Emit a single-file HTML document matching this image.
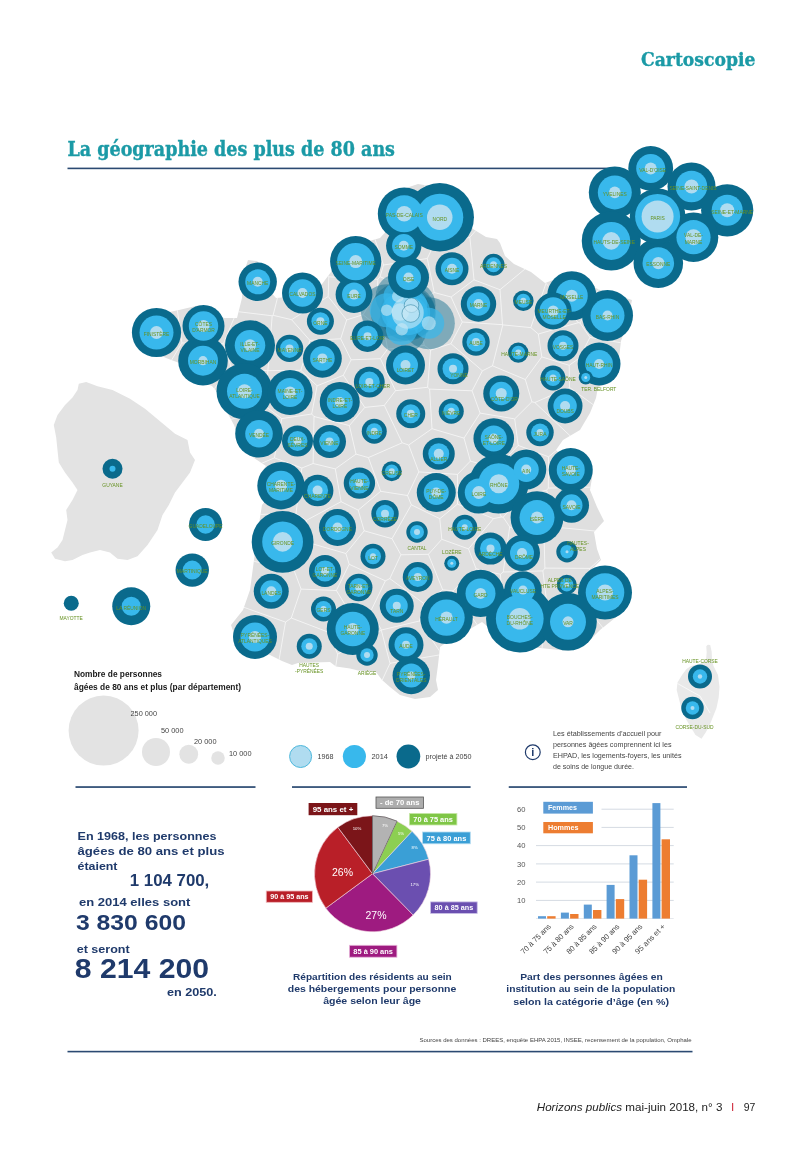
<!DOCTYPE html>
<html lang="fr"><head><meta charset="utf-8"><title>La géographie des plus de 80 ans</title>
<style>html,body{margin:0;padding:0;background:#fff}svg{display:block}text{font-family:"Liberation Sans",sans-serif}.lb{font-size:6px;fill:#669222;text-anchor:middle}.slab{font-family:"DejaVu Serif","Liberation Serif",serif;font-weight:bold}.cg{font-family:"Liberation Sans",sans-serif;font-weight:bold;fill:#1f3a6b}</style></head><body>
<svg width="800" height="1156" viewBox="0 0 800 1156">
<rect width="800" height="1156" fill="#fff"/>
<text class="slab" x="641" y="65.5" font-size="18" fill="#1b9aa6" stroke="#1b9aa6" stroke-width="0.35" textLength="114.5" lengthAdjust="spacingAndGlyphs">Cartoscopie</text>
<text class="slab" x="67.5" y="156" font-size="20.5" fill="#1b9aa6" stroke="#1b9aa6" stroke-width="0.4" textLength="327.5" lengthAdjust="spacingAndGlyphs">La géographie des plus de 80 ans</text>
<rect x="67.5" y="167.6" width="545" height="1.6" fill="#2b4a72"/>
<defs><clipPath id="fr"><path d="M418.0,184.0 L430.0,186.0 L455.0,200.0 L473.0,229.0 L486.0,237.0 L497.0,239.0 L500.0,243.0 L505.0,256.0 L514.0,264.0 L531.0,272.0 L545.0,283.0 L556.0,279.0 L575.0,278.0 L600.0,290.0 L632.0,300.0 L628.0,320.0 L621.0,341.0 L619.0,358.0 L616.0,374.0 L610.0,383.0 L598.0,387.0 L596.0,398.0 L590.0,413.0 L580.0,430.0 L563.0,440.0 L556.0,450.0 L562.0,456.0 L580.0,455.0 L593.0,472.0 L590.0,490.0 L597.0,507.0 L604.0,521.0 L594.0,532.0 L597.0,549.0 L601.0,560.0 L593.0,568.0 L610.0,575.0 L632.0,590.0 L625.0,610.0 L600.0,630.0 L585.0,645.0 L569.0,651.0 L540.0,648.0 L510.0,645.0 L482.0,622.0 L465.0,632.0 L450.0,640.0 L440.0,647.0 L438.0,665.0 L436.0,680.0 L438.0,690.0 L430.0,697.0 L415.0,699.0 L400.0,695.0 L390.0,687.0 L382.0,680.0 L376.0,672.0 L358.0,670.5 L350.0,668.5 L336.0,666.5 L330.0,662.0 L298.0,663.0 L292.0,665.0 L282.0,661.0 L270.0,655.0 L262.0,652.0 L245.0,645.0 L234.0,634.0 L231.0,625.0 L243.0,610.0 L250.0,590.0 L254.0,560.0 L258.0,530.0 L262.0,505.0 L266.0,500.0 L258.0,487.0 L260.0,474.0 L266.0,466.0 L254.0,458.0 L242.0,447.0 L234.0,425.0 L226.0,410.0 L222.0,398.0 L212.0,386.0 L196.0,380.0 L182.0,364.0 L166.0,358.0 L156.0,353.0 L138.0,345.0 L134.0,335.0 L140.0,322.0 L160.0,314.0 L179.0,310.0 L200.0,305.0 L224.0,318.0 L237.0,318.0 L242.0,298.0 L243.0,275.0 L248.0,260.0 L257.0,261.0 L266.0,270.0 L269.0,290.0 L276.0,298.0 L300.0,296.0 L322.0,284.0 L331.0,272.0 L335.0,258.0 L355.0,245.0 L380.0,238.0 L392.0,225.0 L394.0,205.0 L400.0,190.0Z"/></clipPath></defs>
<path d="M418.0,184.0 L430.0,186.0 L455.0,200.0 L473.0,229.0 L486.0,237.0 L497.0,239.0 L500.0,243.0 L505.0,256.0 L514.0,264.0 L531.0,272.0 L545.0,283.0 L556.0,279.0 L575.0,278.0 L600.0,290.0 L632.0,300.0 L628.0,320.0 L621.0,341.0 L619.0,358.0 L616.0,374.0 L610.0,383.0 L598.0,387.0 L596.0,398.0 L590.0,413.0 L580.0,430.0 L563.0,440.0 L556.0,450.0 L562.0,456.0 L580.0,455.0 L593.0,472.0 L590.0,490.0 L597.0,507.0 L604.0,521.0 L594.0,532.0 L597.0,549.0 L601.0,560.0 L593.0,568.0 L610.0,575.0 L632.0,590.0 L625.0,610.0 L600.0,630.0 L585.0,645.0 L569.0,651.0 L540.0,648.0 L510.0,645.0 L482.0,622.0 L465.0,632.0 L450.0,640.0 L440.0,647.0 L438.0,665.0 L436.0,680.0 L438.0,690.0 L430.0,697.0 L415.0,699.0 L400.0,695.0 L390.0,687.0 L382.0,680.0 L376.0,672.0 L358.0,670.5 L350.0,668.5 L336.0,666.5 L330.0,662.0 L298.0,663.0 L292.0,665.0 L282.0,661.0 L270.0,655.0 L262.0,652.0 L245.0,645.0 L234.0,634.0 L231.0,625.0 L243.0,610.0 L250.0,590.0 L254.0,560.0 L258.0,530.0 L262.0,505.0 L266.0,500.0 L258.0,487.0 L260.0,474.0 L266.0,466.0 L254.0,458.0 L242.0,447.0 L234.0,425.0 L226.0,410.0 L222.0,398.0 L212.0,386.0 L196.0,380.0 L182.0,364.0 L166.0,358.0 L156.0,353.0 L138.0,345.0 L134.0,335.0 L140.0,322.0 L160.0,314.0 L179.0,310.0 L200.0,305.0 L224.0,318.0 L237.0,318.0 L242.0,298.0 L243.0,275.0 L248.0,260.0 L257.0,261.0 L266.0,270.0 L269.0,290.0 L276.0,298.0 L300.0,296.0 L322.0,284.0 L331.0,272.0 L335.0,258.0 L355.0,245.0 L380.0,238.0 L392.0,225.0 L394.0,205.0 L400.0,190.0Z" fill="#dfdfdf"/>
<path d="M78.8,383.8 L86.2,382.0 L97.5,386.2 L112.5,390.0 L130.0,398.8 L145.0,408.8 L160.0,421.2 L175.0,433.8 L187.5,440.0 L190.0,452.5 L195.0,460.0 L190.0,472.5 L182.5,482.5 L175.0,492.5 L168.8,505.0 L162.5,515.0 L157.5,530.0 L147.5,545.0 L137.5,556.2 L127.5,560.0 L117.5,558.8 L110.0,552.5 L100.0,550.0 L90.0,552.5 L82.5,555.0 L72.5,560.0 L65.0,561.2 L55.0,558.8 L51.2,552.5 L57.5,547.5 L62.5,540.0 L65.0,530.0 L67.5,520.0 L66.2,510.0 L72.5,500.0 L77.5,490.0 L72.5,482.5 L65.0,472.5 L58.8,462.5 L57.5,450.0 L56.2,437.5 L53.8,425.0 L57.5,415.0 L65.0,405.0 L72.5,397.5 L77.5,390.0Z" fill="#e3e3e3"/>
<path d="M706.3,646.2 L707.8,644.7 L710.2,645.0 L711.7,651.7 L712.0,660.0 L713.5,666.0 L718.0,675.0 L719.5,687.0 L718.7,697.5 L716.5,708.0 L713.5,715.5 L710.5,723.0 L706.0,732.0 L701.5,738.7 L695.5,735.0 L691.0,727.5 L686.5,720.0 L683.5,714.0 L680.5,705.0 L678.2,696.0 L676.7,690.0 L677.5,682.5 L682.0,675.0 L686.5,669.0 L691.0,666.0 L700.0,663.7 L706.0,660.0 L706.7,652.5Z" fill="#e9e9e9"/>
<path d="M677.5,683.5 L689,690 L700,696 L710,713" stroke="#fff" stroke-width="0.7" fill="none"/>
<path d="M157.8,1367.6L-681.2,771.7M-1038.8,600.0L-681.2,771.7M500.0,-837.1L521.0,-804.9M521.0,-804.9L848.8,-320.3M848.8,-320.3L901.5,-258.9M500.0,-837.1L76.4,-300.6M-1038.8,600.0L-40.6,-187.2M76.4,-300.6L-40.6,-187.2M310.0,835.9L337.6,654.2M310.0,835.9L390.0,663.3M337.6,654.2L381.3,630.2M390.0,663.3L381.3,630.2M157.8,1367.6L159.4,1361.1M441.9,654.5L390.0,663.3M441.9,654.5L482.2,679.0M533.9,777.9L482.2,679.0M159.4,1361.1L310.0,835.9M159.4,1361.1L285.5,622.1M-681.2,771.7L45.1,536.7M45.1,536.7L285.5,622.1M381.3,630.2L381.4,630.0M441.9,654.5L419.4,621.0M419.4,621.0L381.4,630.0M337.6,654.2L328.9,632.4M285.5,622.1L291.3,618.0M328.9,632.4L291.3,618.0M453.0,590.8L442.7,589.8M453.0,590.8L482.9,632.8M482.2,679.0L482.9,632.8M419.4,621.0L423.6,603.3M442.7,589.8L423.6,603.3M383.5,265.0L371.7,229.3M383.5,265.0L380.0,276.7M380.0,276.7L377.9,279.3M377.9,279.3L328.8,276.8M371.7,229.3L278.5,134.7M328.8,276.8L296.5,222.0M278.5,134.7L296.5,222.0M521.0,-804.9L420.6,230.0M76.4,-300.6L278.5,134.7M420.6,230.0L371.7,229.3M421.9,294.9L380.0,276.7M430.3,295.1L421.9,294.9M430.3,295.1L434.2,292.5M383.5,265.0L427.3,258.5M434.2,292.5L427.3,258.5M848.8,-320.3L614.4,73.7M614.4,73.7L469.9,237.3M420.6,230.0L433.2,246.0M469.9,237.3L433.2,246.0M433.2,246.0L427.3,258.5M504.0,460.3L522.3,495.6M477.8,463.2L504.0,460.3M501.4,517.0L503.2,517.2M501.4,517.0L477.8,463.2M522.3,495.6L503.2,517.2M468.5,548.9L493.5,518.6M468.5,548.9L441.8,539.3M493.5,518.6L457.5,504.1M457.5,504.1L439.8,518.7M441.8,539.3L439.8,518.7M428.4,554.3L441.8,539.3M442.7,589.8L428.4,554.3M476.1,568.8L468.5,548.9M453.0,590.8L476.1,568.8M470.4,461.1L477.8,463.2M501.4,517.0L493.5,518.6M457.5,474.4L457.5,504.1M470.4,461.1L457.5,474.4M421.9,294.9L396.1,308.7M377.9,279.3L377.2,292.0M377.2,292.0L396.1,308.7M430.3,295.1L420.0,326.0M420.0,326.0L397.0,318.3M396.1,308.7L397.0,318.3M420.0,326.0L424.3,345.4M424.3,345.4L387.6,349.1M397.0,318.3L384.5,331.6M387.6,349.1L384.5,331.6M377.2,292.0L363.0,314.7M384.5,331.6L363.0,314.7M328.8,276.8L328.2,296.5M328.2,296.5L346.7,319.9M346.7,319.9L363.0,314.7M518.2,445.4L504.0,460.3M518.2,445.4L514.7,418.9M470.4,461.1L464.0,438.1M514.7,418.9L480.1,413.1M480.1,413.1L464.0,438.1M423.6,603.3L389.8,578.6M428.4,554.3L400.9,554.8M389.8,578.6L400.9,554.8M411.3,504.8L439.8,518.7M411.3,504.8L392.0,538.7M392.0,538.7L400.9,554.8M346.4,606.9L336.4,590.5M346.4,606.9L371.1,610.5M336.4,590.5L349.2,564.3M349.2,564.3L385.4,580.8M371.1,610.5L385.4,580.8M328.9,632.4L346.4,606.9M291.3,618.0L301.1,589.1M301.1,589.1L336.4,590.5M381.4,630.0L371.1,610.5M294.1,570.5L312.4,543.8M294.1,570.5L301.1,589.1M345.9,553.5L349.2,564.3M312.4,543.8L345.9,553.5M364.2,530.8L392.0,538.7M389.8,578.6L385.4,580.8M345.9,553.5L364.2,530.8M380.4,358.7L387.6,349.1M380.4,358.7L351.1,359.8M346.7,319.9L340.7,338.8M351.1,359.8L340.7,338.8M45.1,536.7L64.6,528.1M294.1,570.5L98.1,525.5M98.1,525.5L64.6,528.1M-40.6,-187.2L165.4,224.0M165.4,224.0L181.9,343.0M181.9,343.0L77.8,514.7M64.6,528.1L77.8,514.7M296.5,222.0L273.1,315.3M328.2,296.5L291.6,319.7M273.1,315.3L291.6,319.7M340.7,338.8L309.9,340.4M291.6,319.7L309.9,340.4M178.3,437.6L77.8,514.7M266.8,407.3L178.3,437.6M266.8,407.3L281.8,418.6M132.1,518.1L98.1,525.5M132.1,518.1L274.4,457.9M274.4,457.9L281.8,418.6M351.1,359.8L343.3,375.3M395.5,390.7L380.4,358.7M395.5,390.7L384.3,405.4M384.3,405.4L364.8,407.4M364.8,407.4L343.3,375.3M300.8,370.3L309.9,340.4M300.8,370.3L317.1,385.8M343.3,375.3L317.1,385.8M408.7,445.0L418.8,471.9M408.7,445.0L402.2,442.8M402.2,442.8L368.4,457.6M368.4,457.6L380.7,491.3M418.8,471.9L407.5,495.5M380.7,491.3L407.5,495.5M432.0,428.7L464.0,438.1M432.0,428.7L408.7,445.0M457.5,474.4L418.8,471.9M411.3,504.8L407.5,495.5M358.2,510.1L364.2,530.8M358.2,510.1L380.7,491.3M544.7,607.0L502.6,602.3M544.7,607.0L546.9,604.0M546.9,604.0L542.9,570.9M542.9,570.9L503.2,572.0M502.6,602.3L500.4,574.3M500.4,574.3L503.2,572.0M533.9,777.9L544.7,607.0M482.9,632.8L502.6,602.3M1028.7,1165.5L583.0,602.7M583.0,602.7L546.9,604.0M583.0,602.7L590.0,568.4M590.0,568.4L544.9,568.1M544.9,568.1L542.9,570.9M544.2,541.5L509.7,526.9M509.7,526.9L503.2,572.0M544.9,568.1L544.2,541.5M476.1,568.8L500.4,574.3M509.7,526.9L503.2,517.2M560.0,527.6L546.6,490.2M560.0,527.6L626.8,534.1M758.1,483.6L548.3,488.1M758.1,483.6L626.8,534.1M548.3,488.1L546.6,490.2M544.2,541.5L560.0,527.6M522.3,495.6L546.6,490.2M590.0,568.4L626.8,534.1M1299.1,460.3L795.3,473.3M795.3,473.3L758.1,483.6M548.6,456.8L518.2,445.4M548.6,456.8L548.3,488.1M434.2,292.5L451.1,297.0M469.9,237.3L474.0,279.8M474.0,279.8L451.1,297.0M472.1,390.8L429.6,389.1M472.1,390.8L482.4,370.8M482.4,370.8L450.9,343.7M427.6,387.3L430.6,350.2M427.6,387.3L429.6,389.1M430.6,350.2L450.9,343.7M432.0,428.7L429.6,389.1M480.1,413.1L472.1,390.8M424.3,345.4L430.6,350.2M395.5,390.7L427.6,387.3M384.3,405.4L402.2,442.8M451.1,297.0L462.3,322.0M462.3,322.0L450.9,343.7M534.8,402.5L569.5,387.5M534.8,402.5L572.0,437.6M569.5,387.5L631.5,432.4M572.0,437.6L631.5,432.4M514.7,418.9L531.9,401.8M548.6,456.8L572.0,437.6M531.9,401.8L534.8,402.5M659.3,436.9L631.5,432.4M795.3,473.3L659.3,436.9M482.4,370.8L492.5,365.8M531.9,401.8L525.3,379.5M492.5,365.8L525.3,379.5M312.4,543.8L306.3,520.4M132.1,518.1L296.0,513.4M296.0,513.4L306.3,520.4M274.4,457.9L301.9,468.0M296.0,513.4L301.9,468.0M358.2,510.1L341.1,501.7M306.3,520.4L341.1,501.7M267.8,370.8L230.9,366.3M267.8,370.8L267.9,370.7M267.9,370.7L272.2,315.8M230.9,366.3L223.4,343.6M223.4,343.6L236.8,311.5M236.8,311.5L272.2,315.8M178.3,437.6L230.9,366.3M266.8,407.3L267.8,370.8M281.8,418.6L311.7,414.0M300.8,370.3L267.9,370.7M317.1,385.8L311.7,414.0M273.1,315.3L272.2,315.8M181.9,343.0L223.4,343.6M165.4,224.0L236.8,311.5M349.4,425.6L314.0,416.5M349.4,425.6L356.0,454.1M314.0,416.5L313.1,463.5M356.0,454.1L335.3,468.9M335.3,468.9L313.1,463.5M364.8,407.4L349.4,425.6M311.7,414.0L314.0,416.5M368.4,457.6L356.0,454.1M301.9,468.0L313.1,463.5M341.1,501.7L335.3,468.9M525.3,379.5L541.8,356.9M569.5,387.5L569.2,365.3M541.8,356.9L569.2,365.3M901.5,-258.9L580.0,323.0M1299.1,460.3L589.9,337.4M580.0,323.0L589.9,337.4M659.3,436.9L579.5,358.0M589.9,337.4L579.5,358.0M579.5,358.0L569.2,365.3M614.4,73.7L543.0,254.1M474.0,279.8L500.0,289.7M543.0,254.1L500.0,289.7M462.3,322.0L502.5,324.7M500.0,289.7L502.5,324.7M492.5,365.8L502.8,324.9M502.5,324.7L502.8,324.9M538.3,334.0L578.3,322.7M538.3,334.0L530.8,327.6M530.8,327.6L546.0,283.3M578.3,322.7L546.0,283.3M541.8,356.9L538.3,334.0M580.0,323.0L578.3,322.7M502.8,324.9L530.8,327.6M543.0,254.1L546.0,283.3" stroke="#fff" stroke-width="0.7" fill="none" clip-path="url(#fr)" opacity="0.9"/>
<g>
<circle cx="386.75" cy="310.2" r="26" fill="#0a6a8c" fill-opacity="0.45"/>
<circle cx="398" cy="296.25" r="22.4" fill="#0a6a8c" fill-opacity="0.45"/>
<circle cx="428.75" cy="323.25" r="26.1" fill="#0a6a8c" fill-opacity="0.45"/>
<circle cx="401.75" cy="329.25" r="24.8" fill="#0a6a8c" fill-opacity="0.45"/>
<circle cx="400.25" cy="312" r="29.5" fill="#0a6a8c" fill-opacity="0.45"/>
<circle cx="407.75" cy="312.75" r="27.8" fill="#0a6a8c" fill-opacity="0.45"/>
<circle cx="411.5" cy="305.25" r="24" fill="#0a6a8c" fill-opacity="0.45"/>
<circle cx="410.75" cy="313.5" r="24.8" fill="#0a6a8c" fill-opacity="0.45"/>
<circle cx="386.75" cy="310.2" r="17" fill="#38b8ec" fill-opacity="0.7"/>
<circle cx="398" cy="296.25" r="14.5" fill="#38b8ec" fill-opacity="0.7"/>
<circle cx="428.75" cy="323.25" r="15.5" fill="#38b8ec" fill-opacity="0.7"/>
<circle cx="401.75" cy="329.25" r="15.8" fill="#38b8ec" fill-opacity="0.7"/>
<circle cx="400.25" cy="312" r="19" fill="#38b8ec" fill-opacity="0.7"/>
<circle cx="407.75" cy="312.75" r="22.5" fill="#38b8ec" fill-opacity="0.7"/>
<circle cx="411.5" cy="305.25" r="15.75" fill="#38b8ec" fill-opacity="0.7"/>
<circle cx="410.75" cy="313.5" r="17.1" fill="#38b8ec" fill-opacity="0.7"/>
<circle cx="386.75" cy="310.2" r="5.8" fill="#c9e8f5" fill-opacity="0.62"/>
<circle cx="398" cy="296.25" r="6" fill="#c9e8f5" fill-opacity="0.62"/>
<circle cx="428.75" cy="323.25" r="7" fill="#c9e8f5" fill-opacity="0.62"/>
<circle cx="401.75" cy="329.25" r="6.2" fill="#c9e8f5" fill-opacity="0.62"/>
<circle cx="400.25" cy="312" r="8.8" fill="#c9e8f5" fill-opacity="0.62"/>
<circle cx="407.75" cy="312.75" r="16" fill="#c9e8f5" fill-opacity="0.62"/>
<circle cx="411.5" cy="305.25" r="7.3" fill="#c9e8f5" fill-opacity="0.62" stroke="#0a6a8c" stroke-opacity="0.55" stroke-width="0.8"/>
<circle cx="410.75" cy="313.5" r="8.8" fill="#c9e8f5" fill-opacity="0.62" stroke="#0a6a8c" stroke-opacity="0.55" stroke-width="0.8"/>
</g>
<circle cx="650.7" cy="168.4" r="22.4" fill="#0a6a8c"/>
<circle cx="614.8" cy="192.4" r="26" fill="#0a6a8c"/>
<circle cx="691.5" cy="186.5" r="24" fill="#0a6a8c"/>
<circle cx="727.2" cy="210.3" r="26.1" fill="#0a6a8c"/>
<circle cx="693.5" cy="237.2" r="24.8" fill="#0a6a8c"/>
<circle cx="611.25" cy="240.9" r="29.5" fill="#0a6a8c"/>
<circle cx="658.3" cy="263.1" r="24.8" fill="#0a6a8c"/>
<circle cx="657.6" cy="216.4" r="27.8" fill="#0a6a8c"/>
<circle cx="439.75" cy="217.25" r="34.2" fill="#0a6a8c"/>
<circle cx="404.2" cy="213.8" r="26.4" fill="#0a6a8c"/>
<circle cx="403.75" cy="245.75" r="17.7" fill="#0a6a8c"/>
<circle cx="408.5" cy="277.5" r="20.5" fill="#0a6a8c"/>
<circle cx="452" cy="268.75" r="16.5" fill="#0a6a8c"/>
<circle cx="493.5" cy="264.75" r="11" fill="#0a6a8c"/>
<circle cx="355.7" cy="261.6" r="25.6" fill="#0a6a8c"/>
<circle cx="354" cy="294.6" r="18.4" fill="#0a6a8c"/>
<circle cx="478.5" cy="304" r="17.7" fill="#0a6a8c"/>
<circle cx="523.3" cy="300.75" r="10.3" fill="#0a6a8c"/>
<circle cx="257.7" cy="281.8" r="19.2" fill="#0a6a8c"/>
<circle cx="302.5" cy="293" r="20.5" fill="#0a6a8c"/>
<circle cx="320.4" cy="321.2" r="13.5" fill="#0a6a8c"/>
<circle cx="156.5" cy="332.5" r="24.6" fill="#0a6a8c"/>
<circle cx="203.5" cy="326" r="21" fill="#0a6a8c"/>
<circle cx="203" cy="360.7" r="24.8" fill="#0a6a8c"/>
<circle cx="250" cy="345.3" r="25" fill="#0a6a8c"/>
<circle cx="289.5" cy="348.4" r="13.7" fill="#0a6a8c"/>
<circle cx="322.4" cy="358.4" r="19.4" fill="#0a6a8c"/>
<circle cx="367.5" cy="336.2" r="15.8" fill="#0a6a8c"/>
<circle cx="405.5" cy="365" r="19.5" fill="#0a6a8c"/>
<circle cx="369.3" cy="382.1" r="15.4" fill="#0a6a8c"/>
<circle cx="476" cy="342" r="13.7" fill="#0a6a8c"/>
<circle cx="453" cy="368.75" r="15.5" fill="#0a6a8c"/>
<circle cx="339.75" cy="402" r="20" fill="#0a6a8c"/>
<circle cx="571.75" cy="295.75" r="24.5" fill="#0a6a8c"/>
<circle cx="607.5" cy="315.5" r="25.5" fill="#0a6a8c"/>
<circle cx="563" cy="345.75" r="15.5" fill="#0a6a8c"/>
<circle cx="599.1" cy="364" r="21.4" fill="#0a6a8c"/>
<circle cx="518.3" cy="352.6" r="10.2" fill="#0a6a8c"/>
<circle cx="553" cy="378" r="12.5" fill="#0a6a8c"/>
<circle cx="501.25" cy="393.5" r="18" fill="#0a6a8c"/>
<circle cx="565.1" cy="406" r="17.4" fill="#0a6a8c"/>
<circle cx="244.5" cy="391.3" r="28" fill="#0a6a8c"/>
<circle cx="290" cy="392.5" r="22.5" fill="#0a6a8c"/>
<circle cx="259" cy="433.7" r="23.8" fill="#0a6a8c"/>
<circle cx="297.5" cy="441" r="15.5" fill="#0a6a8c"/>
<circle cx="329.5" cy="441.6" r="16.5" fill="#0a6a8c"/>
<circle cx="410.75" cy="413.75" r="14.5" fill="#0a6a8c"/>
<circle cx="451.25" cy="411.25" r="12.5" fill="#0a6a8c"/>
<circle cx="374.25" cy="431.25" r="12.5" fill="#0a6a8c"/>
<circle cx="493.75" cy="438.5" r="20.3" fill="#0a6a8c"/>
<circle cx="438.75" cy="453.75" r="16" fill="#0a6a8c"/>
<circle cx="391.75" cy="471.25" r="10" fill="#0a6a8c"/>
<circle cx="359.4" cy="483.1" r="15.7" fill="#0a6a8c"/>
<circle cx="436.25" cy="492.5" r="19.5" fill="#0a6a8c"/>
<circle cx="498.75" cy="483.75" r="29.7" fill="#0a6a8c"/>
<circle cx="478.75" cy="492.5" r="21" fill="#0a6a8c"/>
<circle cx="540" cy="432.5" r="13.7" fill="#0a6a8c"/>
<circle cx="526.25" cy="469.5" r="20" fill="#0a6a8c"/>
<circle cx="570.75" cy="470" r="22" fill="#0a6a8c"/>
<circle cx="571.5" cy="505.25" r="17.5" fill="#0a6a8c"/>
<circle cx="537" cy="517.6" r="26.4" fill="#0a6a8c"/>
<circle cx="464.75" cy="527.25" r="12.5" fill="#0a6a8c"/>
<circle cx="281" cy="485.7" r="23.7" fill="#0a6a8c"/>
<circle cx="317.6" cy="490.5" r="15.8" fill="#0a6a8c"/>
<circle cx="282.6" cy="541.9" r="30.9" fill="#0a6a8c"/>
<circle cx="337.5" cy="527.5" r="18.5" fill="#0a6a8c"/>
<circle cx="325" cy="571" r="16" fill="#0a6a8c"/>
<circle cx="271.25" cy="591.25" r="17.5" fill="#0a6a8c"/>
<circle cx="385" cy="513.75" r="13.7" fill="#0a6a8c"/>
<circle cx="417" cy="532" r="10.7" fill="#0a6a8c"/>
<circle cx="451.75" cy="563.25" r="7.5" fill="#0a6a8c"/>
<circle cx="490.5" cy="548.5" r="16.1" fill="#0a6a8c"/>
<circle cx="522" cy="553" r="18" fill="#0a6a8c"/>
<circle cx="567" cy="551.75" r="10.7" fill="#0a6a8c"/>
<circle cx="566.75" cy="584.75" r="10" fill="#0a6a8c"/>
<circle cx="605" cy="592.5" r="27" fill="#0a6a8c"/>
<circle cx="523" cy="590" r="18.7" fill="#0a6a8c"/>
<circle cx="519.75" cy="618.75" r="33.7" fill="#0a6a8c"/>
<circle cx="568" cy="621.8" r="28.8" fill="#0a6a8c"/>
<circle cx="480.5" cy="593.4" r="23.7" fill="#0a6a8c"/>
<circle cx="446.5" cy="617.6" r="26.3" fill="#0a6a8c"/>
<circle cx="373" cy="556.25" r="12.5" fill="#0a6a8c"/>
<circle cx="417.75" cy="577" r="15" fill="#0a6a8c"/>
<circle cx="358.75" cy="587.5" r="13.7" fill="#0a6a8c"/>
<circle cx="323.5" cy="609" r="12.5" fill="#0a6a8c"/>
<circle cx="396.75" cy="605.75" r="17" fill="#0a6a8c"/>
<circle cx="352.75" cy="629" r="26" fill="#0a6a8c"/>
<circle cx="406" cy="644.75" r="17.5" fill="#0a6a8c"/>
<circle cx="411.25" cy="675.5" r="18.7" fill="#0a6a8c"/>
<circle cx="255" cy="637" r="22" fill="#0a6a8c"/>
<circle cx="309.25" cy="646.25" r="12.5" fill="#0a6a8c"/>
<circle cx="367" cy="655" r="10.7" fill="#0a6a8c"/>
<circle cx="700" cy="676.5" r="12" fill="#0a6a8c"/>
<circle cx="692.5" cy="708" r="11.25" fill="#0a6a8c"/>
<circle cx="112.5" cy="468.75" r="10" fill="#0a6a8c"/>
<circle cx="205.6" cy="524.5" r="16.6" fill="#0a6a8c"/>
<circle cx="192.25" cy="570.1" r="16.7" fill="#0a6a8c"/>
<circle cx="131.25" cy="606.25" r="19" fill="#0a6a8c"/>
<circle cx="71.25" cy="603.25" r="7.5" fill="#0a6a8c"/>
<circle cx="650.7" cy="168.4" r="14.5" fill="#38b8ec"/>
<circle cx="614.8" cy="192.4" r="17" fill="#38b8ec"/>
<circle cx="691.5" cy="186.5" r="15.75" fill="#38b8ec"/>
<circle cx="727.2" cy="210.3" r="15.5" fill="#38b8ec"/>
<circle cx="693.5" cy="237.2" r="17.1" fill="#38b8ec"/>
<circle cx="611.25" cy="240.9" r="19" fill="#38b8ec"/>
<circle cx="658.3" cy="263.1" r="15.8" fill="#38b8ec"/>
<circle cx="657.6" cy="216.4" r="22.5" fill="#38b8ec"/>
<circle cx="439.75" cy="217.25" r="23.5" fill="#38b8ec"/>
<circle cx="404.2" cy="213.8" r="18.5" fill="#38b8ec"/>
<circle cx="403.75" cy="245.75" r="11.7" fill="#38b8ec"/>
<circle cx="408.5" cy="277.5" r="12.5" fill="#38b8ec"/>
<circle cx="452" cy="268.75" r="11" fill="#38b8ec"/>
<circle cx="493.5" cy="264.75" r="7.5" fill="#38b8ec"/>
<circle cx="355.7" cy="261.6" r="18.7" fill="#38b8ec"/>
<circle cx="354" cy="294.6" r="12" fill="#38b8ec"/>
<circle cx="478.5" cy="304" r="11.7" fill="#38b8ec"/>
<circle cx="523.3" cy="300.75" r="7" fill="#38b8ec"/>
<circle cx="257.7" cy="281.8" r="12.5" fill="#38b8ec"/>
<circle cx="302.5" cy="293" r="13.7" fill="#38b8ec"/>
<circle cx="320.4" cy="321.2" r="9" fill="#38b8ec"/>
<circle cx="156.5" cy="332.5" r="17" fill="#38b8ec"/>
<circle cx="203.5" cy="326" r="14.7" fill="#38b8ec"/>
<circle cx="203" cy="360.7" r="15" fill="#38b8ec"/>
<circle cx="250" cy="345.3" r="15.3" fill="#38b8ec"/>
<circle cx="289.5" cy="348.4" r="9.5" fill="#38b8ec"/>
<circle cx="322.4" cy="358.4" r="12.3" fill="#38b8ec"/>
<circle cx="367.5" cy="336.2" r="10.5" fill="#38b8ec"/>
<circle cx="405.5" cy="365" r="12.5" fill="#38b8ec"/>
<circle cx="369.3" cy="382.1" r="10.5" fill="#38b8ec"/>
<circle cx="476" cy="342" r="9.5" fill="#38b8ec"/>
<circle cx="453" cy="368.75" r="10.5" fill="#38b8ec"/>
<circle cx="339.75" cy="402" r="13" fill="#38b8ec"/>
<circle cx="571.75" cy="295.75" r="16" fill="#38b8ec"/>
<circle cx="607.5" cy="315.5" r="17" fill="#38b8ec"/>
<circle cx="563" cy="345.75" r="10.5" fill="#38b8ec"/>
<circle cx="599.1" cy="364" r="13.9" fill="#38b8ec"/>
<circle cx="518.3" cy="352.6" r="6.8" fill="#38b8ec"/>
<circle cx="553" cy="378" r="8" fill="#38b8ec"/>
<circle cx="501.25" cy="393.5" r="11.7" fill="#38b8ec"/>
<circle cx="565.1" cy="406" r="11.7" fill="#38b8ec"/>
<circle cx="244.5" cy="391.3" r="17.5" fill="#38b8ec"/>
<circle cx="290" cy="392.5" r="14.5" fill="#38b8ec"/>
<circle cx="259" cy="433.7" r="13.8" fill="#38b8ec"/>
<circle cx="297.5" cy="441" r="10" fill="#38b8ec"/>
<circle cx="329.5" cy="441.6" r="10.3" fill="#38b8ec"/>
<circle cx="410.75" cy="413.75" r="9.5" fill="#38b8ec"/>
<circle cx="451.25" cy="411.25" r="8" fill="#38b8ec"/>
<circle cx="374.25" cy="431.25" r="8" fill="#38b8ec"/>
<circle cx="493.75" cy="438.5" r="13" fill="#38b8ec"/>
<circle cx="438.75" cy="453.75" r="10.5" fill="#38b8ec"/>
<circle cx="391.75" cy="471.25" r="6.7" fill="#38b8ec"/>
<circle cx="359.4" cy="483.1" r="10.5" fill="#38b8ec"/>
<circle cx="436.25" cy="492.5" r="12.5" fill="#38b8ec"/>
<circle cx="498.75" cy="483.75" r="20.5" fill="#38b8ec"/>
<circle cx="478.75" cy="492.5" r="14" fill="#38b8ec"/>
<circle cx="540" cy="432.5" r="9" fill="#38b8ec"/>
<circle cx="526.25" cy="469.5" r="12.5" fill="#38b8ec"/>
<circle cx="570.75" cy="470" r="14" fill="#38b8ec"/>
<circle cx="571.5" cy="505.25" r="11" fill="#38b8ec"/>
<circle cx="537" cy="517.6" r="17.5" fill="#38b8ec"/>
<circle cx="464.75" cy="527.25" r="8" fill="#38b8ec"/>
<circle cx="281" cy="485.7" r="15" fill="#38b8ec"/>
<circle cx="317.6" cy="490.5" r="10.5" fill="#38b8ec"/>
<circle cx="282.6" cy="541.9" r="20.4" fill="#38b8ec"/>
<circle cx="337.5" cy="527.5" r="12.5" fill="#38b8ec"/>
<circle cx="325" cy="571" r="10.5" fill="#38b8ec"/>
<circle cx="271.25" cy="591.25" r="11" fill="#38b8ec"/>
<circle cx="385" cy="513.75" r="9" fill="#38b8ec"/>
<circle cx="417" cy="532" r="7" fill="#38b8ec"/>
<circle cx="451.75" cy="563.25" r="4.5" fill="#38b8ec"/>
<circle cx="490.5" cy="548.5" r="10.5" fill="#38b8ec"/>
<circle cx="522" cy="553" r="12" fill="#38b8ec"/>
<circle cx="567" cy="551.75" r="6.7" fill="#38b8ec"/>
<circle cx="566.75" cy="584.75" r="6.7" fill="#38b8ec"/>
<circle cx="605" cy="592.5" r="19.3" fill="#38b8ec"/>
<circle cx="523" cy="590" r="12" fill="#38b8ec"/>
<circle cx="519.75" cy="618.75" r="23.9" fill="#38b8ec"/>
<circle cx="568" cy="621.8" r="18" fill="#38b8ec"/>
<circle cx="480.5" cy="593.4" r="15" fill="#38b8ec"/>
<circle cx="446.5" cy="617.6" r="18.2" fill="#38b8ec"/>
<circle cx="373" cy="556.25" r="8" fill="#38b8ec"/>
<circle cx="417.75" cy="577" r="10" fill="#38b8ec"/>
<circle cx="358.75" cy="587.5" r="9.5" fill="#38b8ec"/>
<circle cx="323.5" cy="609" r="8" fill="#38b8ec"/>
<circle cx="396.75" cy="605.75" r="11" fill="#38b8ec"/>
<circle cx="352.75" cy="629" r="17.3" fill="#38b8ec"/>
<circle cx="406" cy="644.75" r="11.5" fill="#38b8ec"/>
<circle cx="411.25" cy="675.5" r="12" fill="#38b8ec"/>
<circle cx="255" cy="637" r="14.5" fill="#38b8ec"/>
<circle cx="309.25" cy="646.25" r="8" fill="#38b8ec"/>
<circle cx="367" cy="655" r="6.7" fill="#38b8ec"/>
<circle cx="700" cy="676.5" r="7.2" fill="#38b8ec"/>
<circle cx="692.5" cy="708" r="6.75" fill="#38b8ec"/>
<circle cx="112.5" cy="468.75" r="3" fill="#38b8ec"/>
<circle cx="205.6" cy="524.5" r="9.2" fill="#38b8ec"/>
<circle cx="192.25" cy="570.1" r="9.5" fill="#38b8ec"/>
<circle cx="131.25" cy="606.25" r="9.5" fill="#38b8ec"/>
<circle cx="650.7" cy="168.4" r="6" fill="#b0dcf0"/>
<circle cx="614.8" cy="192.4" r="5.8" fill="#b0dcf0"/>
<circle cx="691.5" cy="186.5" r="7" fill="#b0dcf0"/>
<circle cx="727.2" cy="210.3" r="7" fill="#b0dcf0"/>
<circle cx="693.5" cy="237.2" r="8" fill="#b0dcf0"/>
<circle cx="611.25" cy="240.9" r="8.8" fill="#b0dcf0"/>
<circle cx="658.3" cy="263.1" r="6.2" fill="#b0dcf0"/>
<circle cx="657.6" cy="216.4" r="16" fill="#b0dcf0"/>
<circle cx="439.75" cy="217.25" r="12.75" fill="#b0dcf0"/>
<circle cx="404.2" cy="213.8" r="7.8" fill="#b0dcf0"/>
<circle cx="403.75" cy="245.75" r="5" fill="#b0dcf0"/>
<circle cx="408.5" cy="277.5" r="5" fill="#b0dcf0"/>
<circle cx="452" cy="268.75" r="5" fill="#b0dcf0"/>
<circle cx="493.5" cy="264.75" r="3.5" fill="#b0dcf0"/>
<circle cx="355.7" cy="261.6" r="6.5" fill="#b0dcf0"/>
<circle cx="354" cy="294.6" r="5" fill="#b0dcf0"/>
<circle cx="478.5" cy="304" r="5" fill="#b0dcf0"/>
<circle cx="523.3" cy="300.75" r="3" fill="#b0dcf0"/>
<circle cx="257.7" cy="281.8" r="5" fill="#b0dcf0"/>
<circle cx="302.5" cy="293" r="5" fill="#b0dcf0"/>
<circle cx="320.4" cy="321.2" r="4" fill="#b0dcf0"/>
<circle cx="156.5" cy="332.5" r="6.5" fill="#b0dcf0"/>
<circle cx="203.5" cy="326" r="6" fill="#b0dcf0"/>
<circle cx="203" cy="360.7" r="4.6" fill="#b0dcf0"/>
<circle cx="250" cy="345.3" r="6" fill="#b0dcf0"/>
<circle cx="289.5" cy="348.4" r="4" fill="#b0dcf0"/>
<circle cx="322.4" cy="358.4" r="5" fill="#b0dcf0"/>
<circle cx="367.5" cy="336.2" r="4" fill="#b0dcf0"/>
<circle cx="405.5" cy="365" r="5" fill="#b0dcf0"/>
<circle cx="369.3" cy="382.1" r="4" fill="#b0dcf0"/>
<circle cx="476" cy="342" r="4" fill="#b0dcf0"/>
<circle cx="453" cy="368.75" r="4" fill="#b0dcf0"/>
<circle cx="339.75" cy="402" r="5" fill="#b0dcf0"/>
<circle cx="571.75" cy="295.75" r="6" fill="#b0dcf0"/>
<circle cx="607.5" cy="315.5" r="5" fill="#b0dcf0"/>
<circle cx="563" cy="345.75" r="4" fill="#b0dcf0"/>
<circle cx="599.1" cy="364" r="5" fill="#b0dcf0"/>
<circle cx="518.3" cy="352.6" r="3" fill="#b0dcf0"/>
<circle cx="553" cy="378" r="3.5" fill="#b0dcf0"/>
<circle cx="501.25" cy="393.5" r="5.5" fill="#b0dcf0"/>
<circle cx="565.1" cy="406" r="5" fill="#b0dcf0"/>
<circle cx="244.5" cy="391.3" r="7" fill="#b0dcf0"/>
<circle cx="290" cy="392.5" r="6" fill="#b0dcf0"/>
<circle cx="259" cy="433.7" r="5" fill="#b0dcf0"/>
<circle cx="297.5" cy="441" r="4" fill="#b0dcf0"/>
<circle cx="329.5" cy="441.6" r="4" fill="#b0dcf0"/>
<circle cx="410.75" cy="413.75" r="4" fill="#b0dcf0"/>
<circle cx="451.25" cy="411.25" r="3.5" fill="#b0dcf0"/>
<circle cx="374.25" cy="431.25" r="3.5" fill="#b0dcf0"/>
<circle cx="493.75" cy="438.5" r="5" fill="#b0dcf0"/>
<circle cx="438.75" cy="453.75" r="5" fill="#b0dcf0"/>
<circle cx="391.75" cy="471.25" r="3" fill="#b0dcf0"/>
<circle cx="359.4" cy="483.1" r="4" fill="#b0dcf0"/>
<circle cx="436.25" cy="492.5" r="5" fill="#b0dcf0"/>
<circle cx="498.75" cy="483.75" r="9.6" fill="#b0dcf0"/>
<circle cx="478.75" cy="492.5" r="6.5" fill="#b0dcf0"/>
<circle cx="540" cy="432.5" r="3.5" fill="#b0dcf0"/>
<circle cx="526.25" cy="469.5" r="5" fill="#b0dcf0"/>
<circle cx="570.75" cy="470" r="5" fill="#b0dcf0"/>
<circle cx="571.5" cy="505.25" r="5" fill="#b0dcf0"/>
<circle cx="537" cy="517.6" r="6" fill="#b0dcf0"/>
<circle cx="464.75" cy="527.25" r="3" fill="#b0dcf0"/>
<circle cx="281" cy="485.7" r="6" fill="#b0dcf0"/>
<circle cx="317.6" cy="490.5" r="5" fill="#b0dcf0"/>
<circle cx="282.6" cy="541.9" r="9.8" fill="#b0dcf0"/>
<circle cx="337.5" cy="527.5" r="5" fill="#b0dcf0"/>
<circle cx="325" cy="571" r="4" fill="#b0dcf0"/>
<circle cx="271.25" cy="591.25" r="5" fill="#b0dcf0"/>
<circle cx="385" cy="513.75" r="4" fill="#b0dcf0"/>
<circle cx="417" cy="532" r="3" fill="#b0dcf0"/>
<circle cx="451.75" cy="563.25" r="1.5" fill="#b0dcf0"/>
<circle cx="490.5" cy="548.5" r="4" fill="#b0dcf0"/>
<circle cx="522" cy="553" r="5" fill="#b0dcf0"/>
<circle cx="567" cy="551.75" r="1.5" fill="#b0dcf0"/>
<circle cx="566.75" cy="584.75" r="2.5" fill="#b0dcf0"/>
<circle cx="605" cy="592.5" r="8" fill="#b0dcf0"/>
<circle cx="523" cy="590" r="4.5" fill="#b0dcf0"/>
<circle cx="519.75" cy="618.75" r="10.8" fill="#b0dcf0"/>
<circle cx="568" cy="621.8" r="5.5" fill="#b0dcf0"/>
<circle cx="480.5" cy="593.4" r="5.5" fill="#b0dcf0"/>
<circle cx="446.5" cy="617.6" r="6.2" fill="#b0dcf0"/>
<circle cx="373" cy="556.25" r="3" fill="#b0dcf0"/>
<circle cx="417.75" cy="577" r="4" fill="#b0dcf0"/>
<circle cx="358.75" cy="587.5" r="3.5" fill="#b0dcf0"/>
<circle cx="323.5" cy="609" r="3" fill="#b0dcf0"/>
<circle cx="396.75" cy="605.75" r="4" fill="#b0dcf0"/>
<circle cx="352.75" cy="629" r="6" fill="#b0dcf0"/>
<circle cx="406" cy="644.75" r="4" fill="#b0dcf0"/>
<circle cx="411.25" cy="675.5" r="4" fill="#b0dcf0"/>
<circle cx="255" cy="637" r="6" fill="#b0dcf0"/>
<circle cx="309.25" cy="646.25" r="3.5" fill="#b0dcf0"/>
<circle cx="367" cy="655" r="3" fill="#b0dcf0"/>
<circle cx="700" cy="676.5" r="2.2" fill="#b0dcf0"/>
<circle cx="692.5" cy="708" r="2" fill="#b0dcf0"/>
<circle cx="553.2" cy="311" r="18.5" fill="#0a6a8c"/>
<circle cx="553.2" cy="311" r="13.7" fill="#38b8ec"/>
<circle cx="553.2" cy="311" r="5.5" fill="#b0dcf0"/>
<circle cx="585.75" cy="377.5" r="7" fill="#0a6a8c"/>
<circle cx="585.75" cy="377.5" r="4.5" fill="#38b8ec"/>
<circle cx="585.75" cy="377.5" r="1.5" fill="#b0dcf0"/>
<g class="lb">
<text transform="translate(652.7,171.7) scale(.82,1)">VAL-D&#39;OISE</text>
<text transform="translate(614.8,195.7) scale(.82,1)">YVELINES</text>
<text transform="translate(693.0,189.8) scale(.82,1)">SEINE-SAINT-DENIS</text>
<text transform="translate(732.2,213.6) scale(.82,1)">SEINE-ET-MARNE</text>
<text transform="translate(693.5,237.4) scale(.82,1)">VAL-DE-</text>
<text transform="translate(693.5,243.6) scale(.82,1)">MARNE</text>
<text transform="translate(614.2,244.2) scale(.82,1)">HAUTS-DE-SEINE</text>
<text transform="translate(658.3,266.4) scale(.82,1)">ESSONNE</text>
<text transform="translate(657.6,219.7) scale(.82,1)">PARIS</text>
<text transform="translate(439.8,220.6) scale(.82,1)">NORD</text>
<text transform="translate(404.2,217.1) scale(.82,1)">PAS-DE-CALAIS</text>
<text transform="translate(403.8,249.1) scale(.82,1)">SOMME</text>
<text transform="translate(408.5,280.8) scale(.82,1)">OISE</text>
<text transform="translate(452.0,272.1) scale(.82,1)">AISNE</text>
<text transform="translate(493.5,268.1) scale(.82,1)">ARDENNES</text>
<text transform="translate(355.7,264.9) scale(.82,1)">SEINE-MARITIME</text>
<text transform="translate(354.0,297.9) scale(.82,1)">EURE</text>
<text transform="translate(478.5,307.3) scale(.82,1)">MARNE</text>
<text transform="translate(523.3,304.1) scale(.82,1)">MEUSE</text>
<text transform="translate(257.7,285.1) scale(.82,1)">MANCHE</text>
<text transform="translate(302.5,296.3) scale(.82,1)">CALVADOS</text>
<text transform="translate(320.4,324.5) scale(.82,1)">ORNE</text>
<text transform="translate(156.5,335.8) scale(.82,1)">FINISTÈRE</text>
<text transform="translate(203.5,326.2) scale(.82,1)">CÔTES</text>
<text transform="translate(203.5,332.4) scale(.82,1)">D&#39;ARMOR</text>
<text transform="translate(203.0,364.0) scale(.82,1)">MORBIHAN</text>
<text transform="translate(250.0,345.5) scale(.82,1)">ILLE-ET-</text>
<text transform="translate(250.0,351.7) scale(.82,1)">VILAINE</text>
<text transform="translate(289.5,351.7) scale(.82,1)">MAYENNE</text>
<text transform="translate(322.4,361.7) scale(.82,1)">SARTHE</text>
<text transform="translate(367.5,339.5) scale(.82,1)">EURE-ET-LOIR</text>
<text transform="translate(405.5,372.3) scale(.82,1)">LOIRET</text>
<text transform="translate(372.8,388.4) scale(.82,1)">LOIR-ET-CHER</text>
<text transform="translate(476.0,345.3) scale(.82,1)">AUBE</text>
<text transform="translate(459.0,377.1) scale(.82,1)">YONNE</text>
<text transform="translate(339.8,402.2) scale(.82,1)">INDRE-ET-</text>
<text transform="translate(339.8,408.4) scale(.82,1)">LOIRE</text>
<text transform="translate(571.8,299.1) scale(.82,1)">MOSELLE</text>
<text transform="translate(607.5,318.8) scale(.82,1)">BAS-RHIN</text>
<text transform="translate(563.0,349.1) scale(.82,1)">VOSGES</text>
<text transform="translate(599.1,367.3) scale(.82,1)">HAUT-RHIN</text>
<text transform="translate(554.2,313.2) scale(.82,1)">MEURTHE-ET-</text>
<text transform="translate(554.2,319.4) scale(.82,1)">MOSELLE</text>
<text transform="translate(598.8,391.3) scale(.82,1)">TER. BELFORT</text>
<text transform="translate(519.3,355.9) scale(.82,1)">HAUTE-MARNE</text>
<text transform="translate(558.0,381.3) scale(.82,1)">HAUTE-SAÔNE</text>
<text transform="translate(504.2,400.8) scale(.82,1)">CÔTE-D&#39;OR</text>
<text transform="translate(565.1,413.3) scale(.82,1)">DOUBS</text>
<text transform="translate(244.5,391.5) scale(.82,1)">LOIRE-</text>
<text transform="translate(244.5,397.7) scale(.82,1)">ATLANTIQUE</text>
<text transform="translate(290.0,392.7) scale(.82,1)">MAINE-ET-</text>
<text transform="translate(290.0,398.9) scale(.82,1)">LOIRE</text>
<text transform="translate(259.0,437.0) scale(.82,1)">VENDÉE</text>
<text transform="translate(297.5,441.2) scale(.82,1)">DEUX-</text>
<text transform="translate(297.5,447.4) scale(.82,1)">SÈVRES</text>
<text transform="translate(329.5,444.9) scale(.82,1)">VIENNE</text>
<text transform="translate(410.8,417.1) scale(.82,1)">CHER</text>
<text transform="translate(451.2,414.6) scale(.82,1)">NIÈVRE</text>
<text transform="translate(374.2,434.6) scale(.82,1)">INDRE</text>
<text transform="translate(493.8,438.7) scale(.82,1)">SAÔNE-</text>
<text transform="translate(493.8,444.9) scale(.82,1)">ET-LOIRE</text>
<text transform="translate(438.8,461.1) scale(.82,1)">ALLIER</text>
<text transform="translate(391.8,474.6) scale(.82,1)">CREUSE</text>
<text transform="translate(359.4,483.3) scale(.82,1)">HAUTE-</text>
<text transform="translate(359.4,489.5) scale(.82,1)">VIENNE</text>
<text transform="translate(436.2,492.7) scale(.82,1)">PUY-DE-</text>
<text transform="translate(436.2,498.9) scale(.82,1)">DÔME</text>
<text transform="translate(498.8,487.1) scale(.82,1)">RHÔNE</text>
<text transform="translate(478.8,495.8) scale(.82,1)">LOIRE</text>
<text transform="translate(540.0,435.8) scale(.82,1)">JURA</text>
<text transform="translate(526.2,472.8) scale(.82,1)">AIN</text>
<text transform="translate(570.8,470.2) scale(.82,1)">HAUTE-</text>
<text transform="translate(570.8,476.4) scale(.82,1)">SAVOIE</text>
<text transform="translate(571.5,508.6) scale(.82,1)">SAVOIE</text>
<text transform="translate(537.0,520.9) scale(.82,1)">ISÈRE</text>
<text transform="translate(464.8,530.5) scale(.82,1)">HAUTE-LOIRE</text>
<text transform="translate(281.0,485.9) scale(.82,1)">CHARENTE-</text>
<text transform="translate(281.0,492.1) scale(.82,1)">MARITIME</text>
<text transform="translate(317.6,497.8) scale(.82,1)">CHARENTE</text>
<text transform="translate(282.6,545.2) scale(.82,1)">GIRONDE</text>
<text transform="translate(337.5,530.8) scale(.82,1)">DORDOGNE</text>
<text transform="translate(325.0,571.2) scale(.82,1)">LOT-ET-</text>
<text transform="translate(325.0,577.4) scale(.82,1)">GARONNE</text>
<text transform="translate(271.2,594.5) scale(.82,1)">LANDES</text>
<text transform="translate(385.0,521.0) scale(.82,1)">CORRÈZE</text>
<text transform="translate(417.0,550.3) scale(.82,1)">CANTAL</text>
<text transform="translate(451.8,553.5) scale(.82,1)">LOZÈRE</text>
<text transform="translate(490.5,555.8) scale(.82,1)">ARDÈCHE</text>
<text transform="translate(524.0,559.3) scale(.82,1)">DRÔME</text>
<text transform="translate(578.0,544.9) scale(.82,1)">HAUTES-</text>
<text transform="translate(578.0,551.1) scale(.82,1)">ALPES</text>
<text transform="translate(559.8,581.9) scale(.82,1)">ALPES DE</text>
<text transform="translate(559.8,588.1) scale(.82,1)">HTE PROVENCE</text>
<text transform="translate(605.0,592.7) scale(.82,1)">ALPES-</text>
<text transform="translate(605.0,598.9) scale(.82,1)">MARITIMES</text>
<text transform="translate(523.0,593.3) scale(.82,1)">VAUCLUSE</text>
<text transform="translate(519.8,618.9) scale(.82,1)">BOUCHES-</text>
<text transform="translate(519.8,625.1) scale(.82,1)">DU-RHÔNE</text>
<text transform="translate(568.0,625.1) scale(.82,1)">VAR</text>
<text transform="translate(480.5,596.7) scale(.82,1)">GARD</text>
<text transform="translate(446.5,620.9) scale(.82,1)">HÉRAULT</text>
<text transform="translate(373.0,559.5) scale(.82,1)">LOT</text>
<text transform="translate(417.8,580.3) scale(.82,1)">AVEYRON</text>
<text transform="translate(358.8,587.7) scale(.82,1)">TARN-ET-</text>
<text transform="translate(358.8,593.9) scale(.82,1)">GARONNE</text>
<text transform="translate(323.5,612.3) scale(.82,1)">GERS</text>
<text transform="translate(396.8,613.0) scale(.82,1)">TARN</text>
<text transform="translate(352.8,629.2) scale(.82,1)">HAUTE-</text>
<text transform="translate(352.8,635.4) scale(.82,1)">GARONNE</text>
<text transform="translate(406.0,648.0) scale(.82,1)">AUDE</text>
<text transform="translate(411.2,675.7) scale(.82,1)">PYRÉNÉES-</text>
<text transform="translate(411.2,681.9) scale(.82,1)">ORIENTALES</text>
<text transform="translate(255.0,637.2) scale(.82,1)">PYRÉNÉES-</text>
<text transform="translate(255.0,643.4) scale(.82,1)">ATLANTIQUES</text>
<text transform="translate(309.2,666.9) scale(.82,1)">HAUTES</text>
<text transform="translate(309.2,673.1) scale(.82,1)">-PYRÉNÉES</text>
<text transform="translate(367.0,675.3) scale(.82,1)">ARIÈGE</text>
<text transform="translate(700.0,663.3) scale(.82,1)">HAUTE-CORSE</text>
<text transform="translate(694.5,728.8) scale(.82,1)">CORSE-DU-SUD</text>
<text transform="translate(112.5,487.1) scale(.82,1)">GUYANE</text>
<text transform="translate(205.6,527.8) scale(.82,1)">GUADELOUPE</text>
<text transform="translate(192.2,573.4) scale(.82,1)">MARTINIQUE</text>
<text transform="translate(131.2,609.5) scale(.82,1)">LA RÉUNION</text>
<text transform="translate(71.2,619.5) scale(.82,1)">MAYOTTE</text>
</g><g font-weight="bold" font-size="8.6" fill="#1a1a1a">
<text x="74" y="677" textLength="88" lengthAdjust="spacingAndGlyphs">Nombre de personnes</text>
<text x="74" y="689.5" textLength="167" lengthAdjust="spacingAndGlyphs">âgées de 80 ans et plus (par département)</text>
</g>
<circle cx="103.6" cy="730.6" r="35" fill="#e3e3e3"/>
<circle cx="156" cy="752" r="14" fill="#e3e3e3"/>
<circle cx="188.75" cy="754.25" r="9.4" fill="#e3e3e3"/>
<circle cx="218" cy="758" r="6.75" fill="#e3e3e3"/>
<g font-size="7" fill="#444">
<text x="130.5" y="716.3" textLength="26.5" lengthAdjust="spacingAndGlyphs">250 000</text>
<text x="161" y="732.8" textLength="22.5" lengthAdjust="spacingAndGlyphs">50 000</text>
<text x="194" y="744.3" textLength="22.5" lengthAdjust="spacingAndGlyphs">20 000</text>
<text x="229" y="756.3" textLength="22.5" lengthAdjust="spacingAndGlyphs">10 000</text>
</g>
<rect x="75.5" y="786.2" width="180.0" height="1.7" fill="#2b4a72"/>
<rect x="292" y="786.2" width="178.60000000000002" height="1.7" fill="#2b4a72"/>
<rect x="508.75" y="786.2" width="178.25" height="1.7" fill="#2b4a72"/>
<circle cx="300.6" cy="756.5" r="11" fill="#b0dcf0" stroke="#4db8dc" stroke-width="1"/>
<circle cx="354.4" cy="756.5" r="11.6" fill="#38b8ec"/>
<circle cx="408.4" cy="756.5" r="11.9" fill="#0a6a8c"/>
<g font-size="6.8" fill="#444">
<text x="317.5" y="759" textLength="16" lengthAdjust="spacingAndGlyphs">1968</text>
<text x="371.5" y="759" textLength="16.5" lengthAdjust="spacingAndGlyphs">2014</text>
<text x="425.6" y="759" textLength="46" lengthAdjust="spacingAndGlyphs">projeté à 2050</text>
</g>
<circle cx="532.8" cy="752.2" r="7.4" fill="#fff" stroke="#1f3a6b" stroke-width="1.2"/>
<text x="532.8" y="756.2" font-size="11" font-weight="bold" fill="#1f3a6b" text-anchor="middle">i</text>
<g font-size="8" fill="#444">
<text x="553" y="736" textLength="108.5" lengthAdjust="spacingAndGlyphs">Les établissements d’accueil pour</text>
<text x="553" y="747" textLength="118.5" lengthAdjust="spacingAndGlyphs">personnes âgées comprennent ici les</text>
<text x="553" y="758" textLength="128.5" lengthAdjust="spacingAndGlyphs">EHPAD, les logements-foyers, les unités</text>
<text x="553" y="769.4" textLength="81" lengthAdjust="spacingAndGlyphs">de soins de longue durée.</text>
</g>
<g class="cg">
<text x="77.5" y="839.9" font-size="10.6" textLength="139" lengthAdjust="spacingAndGlyphs">En 1968, les personnes</text>
<text x="77.5" y="855" font-size="10.6" textLength="147" lengthAdjust="spacingAndGlyphs">âgées de 80 ans et plus</text>
<text x="77.5" y="870" font-size="10.6" textLength="40" lengthAdjust="spacingAndGlyphs">étaient</text>
<text x="129.8" y="885.8" font-size="16.2" textLength="79.5" lengthAdjust="spacingAndGlyphs">1 104 700,</text>
<text x="78.9" y="905.9" font-size="10.6" textLength="111.5" lengthAdjust="spacingAndGlyphs">en 2014 elles sont</text>
<text x="76" y="929.8" font-size="22" textLength="110" lengthAdjust="spacingAndGlyphs">3 830 600</text>
<text x="76.7" y="952.6" font-size="10.6" textLength="53" lengthAdjust="spacingAndGlyphs">et seront</text>
<text x="74.75" y="978.2" font-size="26.8" textLength="134.3" lengthAdjust="spacingAndGlyphs">8 214 200</text>
<text x="166.9" y="995.8" font-size="10.6" textLength="50" lengthAdjust="spacingAndGlyphs">en 2050.</text>
</g>
<path d="M372.5,873.75L372.50,815.75A58,58 0 0 1 397.01,821.18Z" fill="#b3b3b3" stroke="#f3d9e3" stroke-width="0.6" stroke-linejoin="round"/>
<path d="M372.5,873.75L397.01,821.18A58,58 0 0 1 412.06,831.33Z" fill="#8ccf52" stroke="#f3d9e3" stroke-width="0.6" stroke-linejoin="round"/>
<path d="M372.5,873.75L412.06,831.33A58,58 0 0 1 428.65,859.23Z" fill="#3a9fd6" stroke="#f3d9e3" stroke-width="0.6" stroke-linejoin="round"/>
<path d="M372.5,873.75L428.65,859.23A58,58 0 0 1 413.15,915.12Z" fill="#6b4fb0" stroke="#f3d9e3" stroke-width="0.6" stroke-linejoin="round"/>
<path d="M372.5,873.75L413.15,915.12A58,58 0 0 1 325.82,908.17Z" fill="#9e1b80" stroke="#f3d9e3" stroke-width="0.6" stroke-linejoin="round"/>
<path d="M372.5,873.75L325.82,908.17A58,58 0 0 1 337.84,827.25Z" fill="#b91f28" stroke="#f3d9e3" stroke-width="0.6" stroke-linejoin="round"/>
<path d="M372.5,873.75L337.84,827.25A58,58 0 0 1 372.50,815.75Z" fill="#7b1519" stroke="#f3d9e3" stroke-width="0.6" stroke-linejoin="round"/>
<path d="M372.5,873.75L372.50,815.75A58,58 0 0 1 397.01,821.18Z" fill="none" stroke="#5a5a5a" stroke-width="0.8" stroke-linejoin="round"/>
<g fill="#fff" text-anchor="middle">
<text x="342.5" y="875.6" font-size="10.5">26%</text>
<text x="376" y="919.3" font-size="10.5">27%</text>
<text x="357" y="830.3" font-size="4.3">10%</text>
<text x="385" y="826.6" font-size="4.3">7%</text>
<text x="401" y="835" font-size="4.3">5%</text>
<text x="414.7" y="848.5" font-size="4.3">8%</text>
<text x="414.7" y="886" font-size="4.3">17%</text>
</g>
<rect x="308.6" y="803" width="48.7" height="12.2" fill="#7b1519" stroke="none" stroke-width="0.8"/>
<text x="333.0" y="811.7" font-size="7.4" font-weight="bold" fill="#fff" text-anchor="middle" textLength="40.7" lengthAdjust="spacingAndGlyphs">95 ans et +</text>
<rect x="376" y="797" width="47.4" height="11.3" fill="#adadad" stroke="#555" stroke-width="0.8"/>
<text x="399.7" y="805.2" font-size="7.4" font-weight="bold" fill="#fff" text-anchor="middle" textLength="39.4" lengthAdjust="spacingAndGlyphs">- de 70 ans</text>
<rect x="409.4" y="813.4" width="47.5" height="11.6" fill="#7fc646" stroke="#c9e8a8" stroke-width="0.8"/>
<text x="433.1" y="821.8" font-size="7.4" font-weight="bold" fill="#fff" text-anchor="middle" textLength="39.5" lengthAdjust="spacingAndGlyphs">70 à 75 ans</text>
<rect x="422.5" y="832" width="47.8" height="11.8" fill="#3a9fd6" stroke="#b5dcf0" stroke-width="0.8"/>
<text x="446.4" y="840.5" font-size="7.4" font-weight="bold" fill="#fff" text-anchor="middle" textLength="39.8" lengthAdjust="spacingAndGlyphs">75 à 80 ans</text>
<rect x="430.6" y="901.9" width="46.6" height="11.5" fill="#6b4fb0" stroke="#c9bfe6" stroke-width="0.8"/>
<text x="453.9" y="910.2" font-size="7.4" font-weight="bold" fill="#fff" text-anchor="middle" textLength="38.6" lengthAdjust="spacingAndGlyphs">80 à  85 ans</text>
<rect x="349.4" y="945.3" width="47.5" height="11.9" fill="#9e1b80" stroke="#e6b4d9" stroke-width="0.8"/>
<text x="373.1" y="953.9" font-size="7.4" font-weight="bold" fill="#fff" text-anchor="middle" textLength="39.5" lengthAdjust="spacingAndGlyphs">85 à  90 ans</text>
<rect x="266.25" y="891" width="46.2" height="11.3" fill="#b91f28" stroke="#f0b8bb" stroke-width="0.8"/>
<text x="289.4" y="899.2" font-size="7.4" font-weight="bold" fill="#fff" text-anchor="middle" textLength="38.2" lengthAdjust="spacingAndGlyphs">90 à 95 ans</text>
<rect x="536" y="899.9" width="137.7" height="1" fill="#d5dbe3"/>
<text x="525.5" y="903.1" font-size="7.6" fill="#555" text-anchor="end">10</text>
<rect x="536" y="881.6" width="137.7" height="1" fill="#d5dbe3"/>
<text x="525.5" y="884.8" font-size="7.6" fill="#555" text-anchor="end">20</text>
<rect x="536" y="863.4" width="137.7" height="1" fill="#d5dbe3"/>
<text x="525.5" y="866.6" font-size="7.6" fill="#555" text-anchor="end">30</text>
<rect x="536" y="845.1" width="137.7" height="1" fill="#d5dbe3"/>
<text x="525.5" y="848.3" font-size="7.6" fill="#555" text-anchor="end">40</text>
<rect x="601.5" y="826.9" width="72.2" height="1" fill="#d5dbe3"/>
<text x="525.5" y="830.1" font-size="7.6" fill="#555" text-anchor="end">50</text>
<rect x="601.5" y="808.7" width="72.2" height="1" fill="#d5dbe3"/>
<text x="525.5" y="811.9" font-size="7.6" fill="#555" text-anchor="end">60</text>
<rect x="536" y="918.2" width="137.7" height="0.8" fill="#dfe3e8"/>
<rect x="538.0" y="916.2" width="8" height="2.4" fill="#5b9bd5"/>
<rect x="547.2" y="916.2" width="8.4" height="2.4" fill="#ed7d31"/>
<rect x="560.9" y="912.6" width="8" height="6.0" fill="#5b9bd5"/>
<rect x="570.1" y="914.0" width="8.4" height="4.6" fill="#ed7d31"/>
<rect x="583.8" y="904.6" width="8" height="14.0" fill="#5b9bd5"/>
<rect x="593.0" y="910.0" width="8.4" height="8.6" fill="#ed7d31"/>
<rect x="606.6" y="884.9" width="8" height="33.7" fill="#5b9bd5"/>
<rect x="615.8" y="899.1" width="8.4" height="19.5" fill="#ed7d31"/>
<rect x="629.5" y="855.3" width="8" height="63.3" fill="#5b9bd5"/>
<rect x="638.7" y="879.7" width="8.4" height="38.9" fill="#ed7d31"/>
<rect x="652.4" y="803.1" width="8" height="115.5" fill="#5b9bd5"/>
<rect x="661.6" y="839.3" width="8.4" height="79.3" fill="#ed7d31"/>
<rect x="543.3" y="801.8" width="49.6" height="11.8" fill="#5b9bd5"/>
<rect x="543.3" y="822" width="49.6" height="11.3" fill="#ed7d31"/>
<text x="548" y="810.4" font-size="7.4" font-weight="bold" fill="#fff" textLength="29" lengthAdjust="spacingAndGlyphs">Femmes</text>
<text x="548" y="830.3" font-size="7.4" font-weight="bold" fill="#fff" textLength="30.5" lengthAdjust="spacingAndGlyphs">Hommes</text>
<text transform="translate(551.3,927) rotate(-45)" font-size="7.6" fill="#444" text-anchor="end" textLength="39" lengthAdjust="spacingAndGlyphs">70 à 75 ans</text>
<text transform="translate(574.2,927) rotate(-45)" font-size="7.6" fill="#444" text-anchor="end" textLength="39" lengthAdjust="spacingAndGlyphs">75 à 80 ans</text>
<text transform="translate(597.1,927) rotate(-45)" font-size="7.6" fill="#444" text-anchor="end" textLength="39" lengthAdjust="spacingAndGlyphs">80 à 85 ans</text>
<text transform="translate(619.9,927) rotate(-45)" font-size="7.6" fill="#444" text-anchor="end" textLength="39" lengthAdjust="spacingAndGlyphs">85 à 90 ans</text>
<text transform="translate(642.8,927) rotate(-45)" font-size="7.6" fill="#444" text-anchor="end" textLength="39" lengthAdjust="spacingAndGlyphs">90 à 95 ans</text>
<text transform="translate(665.7,927) rotate(-45)" font-size="7.6" fill="#444" text-anchor="end" textLength="39" lengthAdjust="spacingAndGlyphs">95 ans et +</text>
<g class="cg" font-size="9.3" text-anchor="middle">
<text x="372.4" y="980" textLength="158.7" lengthAdjust="spacingAndGlyphs">Répartition des résidents au sein</text>
<text x="372" y="992" textLength="168.5" lengthAdjust="spacingAndGlyphs">des hébergements pour personne</text>
<text x="372.1" y="1004" textLength="97.8" lengthAdjust="spacingAndGlyphs">âgée selon leur âge</text>
<text x="591.5" y="980" textLength="142.5" lengthAdjust="spacingAndGlyphs">Part des personnes âgées en</text>
<text x="590.8" y="992" textLength="169" lengthAdjust="spacingAndGlyphs">institution au sein de la population</text>
<text x="591.1" y="1004.5" textLength="155.7" lengthAdjust="spacingAndGlyphs">selon la catégorie d’âge (en %)</text>
</g>
<text x="419.5" y="1041.6" font-size="5.6" fill="#444" textLength="272" lengthAdjust="spacingAndGlyphs">Sources des données : DREES, enquête EHPA 2015, INSEE, recensement de la population, Omphale</text>
<rect x="67.5" y="1050.8" width="625" height="1.6" fill="#2b4a72"/>
<text x="536.75" y="1110.75" font-size="10.9" fill="#222" textLength="185.6" lengthAdjust="spacingAndGlyphs"><tspan font-style="italic">Horizons publics</tspan> mai-juin 2018, n° 3</text>
<rect x="732" y="1103" width="1.2" height="8" fill="#d23a4a"/>
<text x="743.7" y="1110.75" font-size="10.9" fill="#222" textLength="11.6" lengthAdjust="spacingAndGlyphs">97</text>
</svg></body></html>
